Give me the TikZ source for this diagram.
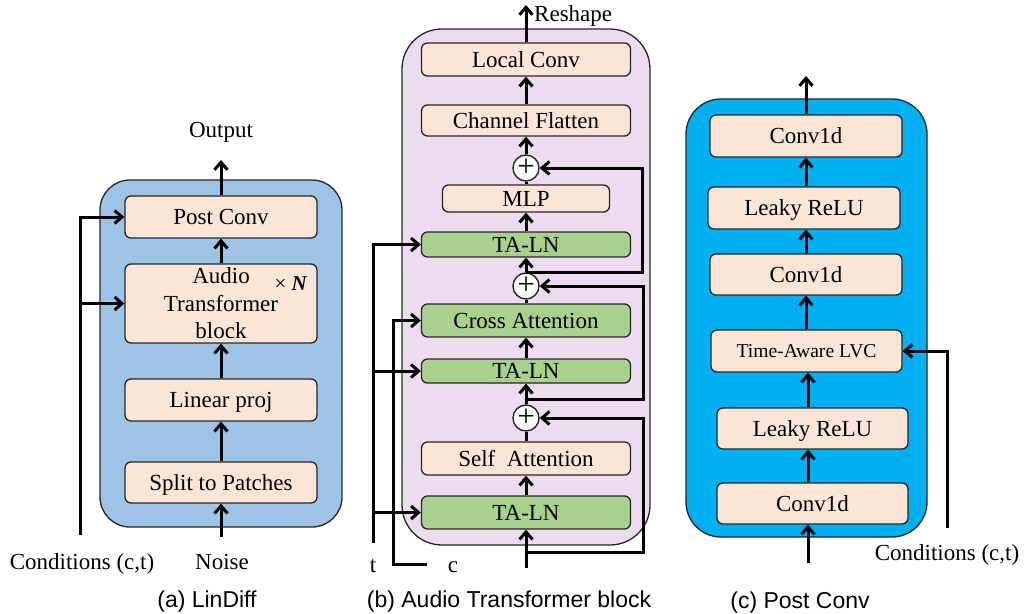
\documentclass[tikz,border=0pt]{standalone}
\usepackage{fontspec}
\setmainfont{Liberation Serif}
\setsansfont{Liberation Sans}
\usetikzlibrary{arrows.meta,calc}
\definecolor{peach}{HTML}{FBE5D6}
\definecolor{bluea}{HTML}{9DC3E6}
\definecolor{lav}{HTML}{EDDCF0}
\definecolor{grn}{HTML}{A9D18E}
\definecolor{cyanc}{HTML}{00B0F0}
\definecolor{edge}{HTML}{262626}
\begin{document}
\begin{tikzpicture}[x=1pt,y=-1pt,
  box/.style={draw=edge, line width=1.3pt, rounded corners=6pt, inner sep=0pt,
    font=\fontsize{23}{27.5}\selectfont, align=center},
  onel/.style={text height=15.2pt, text depth=0pt},
  pbox/.style={box, fill=peach},
  gbox/.style={box, fill=grn},
  outerbox/.style={draw=edge, line width=1.3pt, inner sep=0pt},
  conn/.style={line width=3pt, draw=black},
  arr/.style={conn, -{Straight Barb[length=7.5pt,width=13pt]}},
  plusnode/.style={circle, draw=edge, fill=white, line width=1.4pt, minimum size=26pt,
    inner sep=0pt, font=\fontsize{31}{31}\selectfont},
  lab/.style={font=\fontsize{23}{27.5}\selectfont, inner sep=0pt, text height=15.2pt, text depth=0pt},
  captxt/.style={font=\sffamily\fontsize{23}{27.5}\selectfont, inner sep=0pt, text height=16.5pt, text depth=0pt}
]
\useasboundingbox (0,0) rectangle (1024,613);

% ---------------- (a) LinDiff ----------------
\node[outerbox, fill=bluea, rounded corners=30pt, minimum width=242pt, minimum height=347pt] (A) at (221,353.5) {};
\node[pbox, onel, minimum width=192pt, minimum height=42pt] (pc) at (221,217) {Post Conv};
\node[pbox, minimum width=192pt, minimum height=79pt] (atb) at (221,303.5) {Audio\\Transformer\\block};
\node[pbox, onel, minimum width=192pt, minimum height=42pt] (lp) at (221,400) {Linear proj};
\node[pbox, onel, minimum width=192pt, minimum height=41pt] (sp) at (221,482.5) {Split to Patches};
\node[inner sep=0pt, font=\fontsize{21}{21}\selectfont] (xn) at (291,284) {× \textbf{\textit{N}}};
\coordinate (outa) at (221,160);
\coordinate (noisea) at (221,537);
\coordinate (conda) at (80,535);
\node[lab] (outlab) at (221,130) {Output};
\node[lab] (noiselab) at (222,562) {Noise};
\node[lab] (condlab) at (82,562) {Conditions (c,t)};
\draw[arr] (pc.north) -- (outa);
\draw[arr] (atb.north) -- (pc.south);
\draw[arr] (lp.north) -- (atb.south);
\draw[arr] (sp.north) -- (lp.south);
\draw[arr] (noisea) -- (sp.south);
\draw[arr] (conda) -- (conda |- pc.west) -- (pc.west);
\draw[arr] (conda |- atb.west) -- (atb.west);
\node[captxt] (capa) at (207,599) {(a) LinDiff};

% ---------------- (b) Audio Transformer block ----------------
\node[outerbox, fill=lav, rounded corners=40pt, minimum width=248pt, minimum height=516pt] (B) at (526,287) {};
\node[pbox, onel, minimum width=209pt, minimum height=33pt] (lc) at (526,59.5) {Local Conv};
\node[pbox, onel, minimum width=209pt, minimum height=31pt] (cf) at (526,120.5) {Channel Flatten};
\node[plusnode] (p1) at (526,168) {+};
\node[pbox, onel, minimum width=167pt, minimum height=27pt] (mlp) at (526,198.5) {MLP};
\node[gbox, onel, minimum width=209pt, minimum height=25pt] (tl1) at (526,244.5) {TA-LN};
\node[plusnode] (p2) at (526,286) {+};
\node[gbox, onel, minimum width=209pt, minimum height=33pt] (cra) at (526,320.5) {Cross Attention};
\node[gbox, onel, minimum width=209pt, minimum height=24pt] (tl2) at (526,371) {TA-LN};
\node[plusnode] (p3) at (526,418) {+};
\node[pbox, onel, minimum width=209pt, minimum height=33pt] (sa) at (526,458.5) {Self\ \ Attention};
\node[gbox, onel, minimum width=209pt, minimum height=33pt] (tl3) at (526,512.5) {TA-LN};
\coordinate (rs) at (526,5);
\node[lab, anchor=west] (rslab) at (534,14) {Reshape};
\draw[arr] (lc.north) -- (rs);
\draw[arr] (cf.north) -- (lc.south);
\draw[arr] (p1.north) -- (cf.south);
\draw[conn] (mlp.north) -- (p1.south);
\draw[arr] (tl1.north) -- (mlp.south);
\draw[arr] (p2.north) -- (tl1.south);
\draw[conn] (cra.north) -- (p2.south);
\draw[arr] (tl2.north) -- (cra.south);
\draw[arr] (p3.north) -- (tl2.south);
\draw[conn] (sa.north) -- (p3.south);
\draw[arr] (tl3.north) -- (sa.south);
\coordinate (inb) at (526,568);
\draw[arr] (inb) -- (tl3.south);
% residual loops
\coordinate (t1) at (526,272); \coordinate (r1) at (642,272);
\coordinate (t2) at (526,399); \coordinate (r2) at (643,399);
\coordinate (t3) at (526,552); \coordinate (r3) at (643,552);
\draw[arr] (t1) -- (r1) -- (r1 |- p1.east) -- (p1.east);
\draw[arr] (t2) -- (r2) -- (r2 |- p2.east) -- (p2.east);
\draw[arr] (t3) -- (r3) -- (r3 |- p3.east) -- (p3.east);
% t and c inputs
\coordinate (tb) at (373,543);
\draw[arr] (tb) -- (tb |- tl1.west) -- (tl1.west);
\draw[arr] (tb |- tl2.west) -- (tl2.west);
\draw[arr] (tb |- tl3.west) -- (tl3.west);
\coordinate (cb) at (427,564); \coordinate (cc) at (393,564);
\draw[arr] (cb) -- (cc) -- (cc |- cra.west) -- (cra.west);
\node[lab] (tlab) at (373,564.5) {t};
\node[lab] (clab) at (453,564.5) {c};
\node[captxt] (capb) at (509,599) {(b) Audio Transformer block};

% ---------------- (c) Post Conv ----------------
\node[outerbox, fill=cyanc, rounded corners=35pt, minimum width=241pt, minimum height=438pt] (C) at (806.5,318) {};
\node[pbox, onel, minimum width=192pt, minimum height=42pt] (c1) at (806,136) {Conv1d};
\node[pbox, onel, minimum width=192pt, minimum height=42pt] (l1) at (804,208) {Leaky ReLU};
\node[pbox, onel, minimum width=192pt, minimum height=41pt] (c2) at (806,274.5) {Conv1d};
\node[pbox, text height=12.9pt, text depth=0pt, font=\fontsize{19.6}{23}\selectfont, minimum width=191pt, minimum height=42pt] (lvc) at (806.5,351) {Time-Aware LVC};
\node[pbox, onel, minimum width=191pt, minimum height=41pt] (l2) at (812.5,428.5) {Leaky ReLU};
\node[pbox, onel, minimum width=191pt, minimum height=41pt] (c3) at (812.5,503.5) {Conv1d};
\coordinate (colu) at (806,0);
\coordinate (coll) at (808,0);
\coordinate (ctop) at (806,76);
\coordinate (cin) at (808,563);
\coordinate (cndc) at (947,528);
\draw[arr] (c1.north -| colu) -- (ctop);
\draw[arr] (l1.north -| colu) -- (c1.south -| colu);
\draw[arr] (c2.north -| colu) -- (l1.south -| colu);
\draw[arr] (lvc.north -| colu) -- (c2.south -| colu);
\draw[arr] (l2.north -| coll) -- (lvc.south -| coll);
\draw[arr] (c3.north -| coll) -- (l2.south -| coll);
\draw[arr] (cin) -- (c3.south -| coll);
\draw[arr] (cndc) -- (cndc |- lvc.east) -- (lvc.east);
\node[lab] (condc) at (947,553) {Conditions (c,t)};
\node[captxt] (capc) at (800,600) {(c) Post Conv};
\end{tikzpicture}
\end{document}
